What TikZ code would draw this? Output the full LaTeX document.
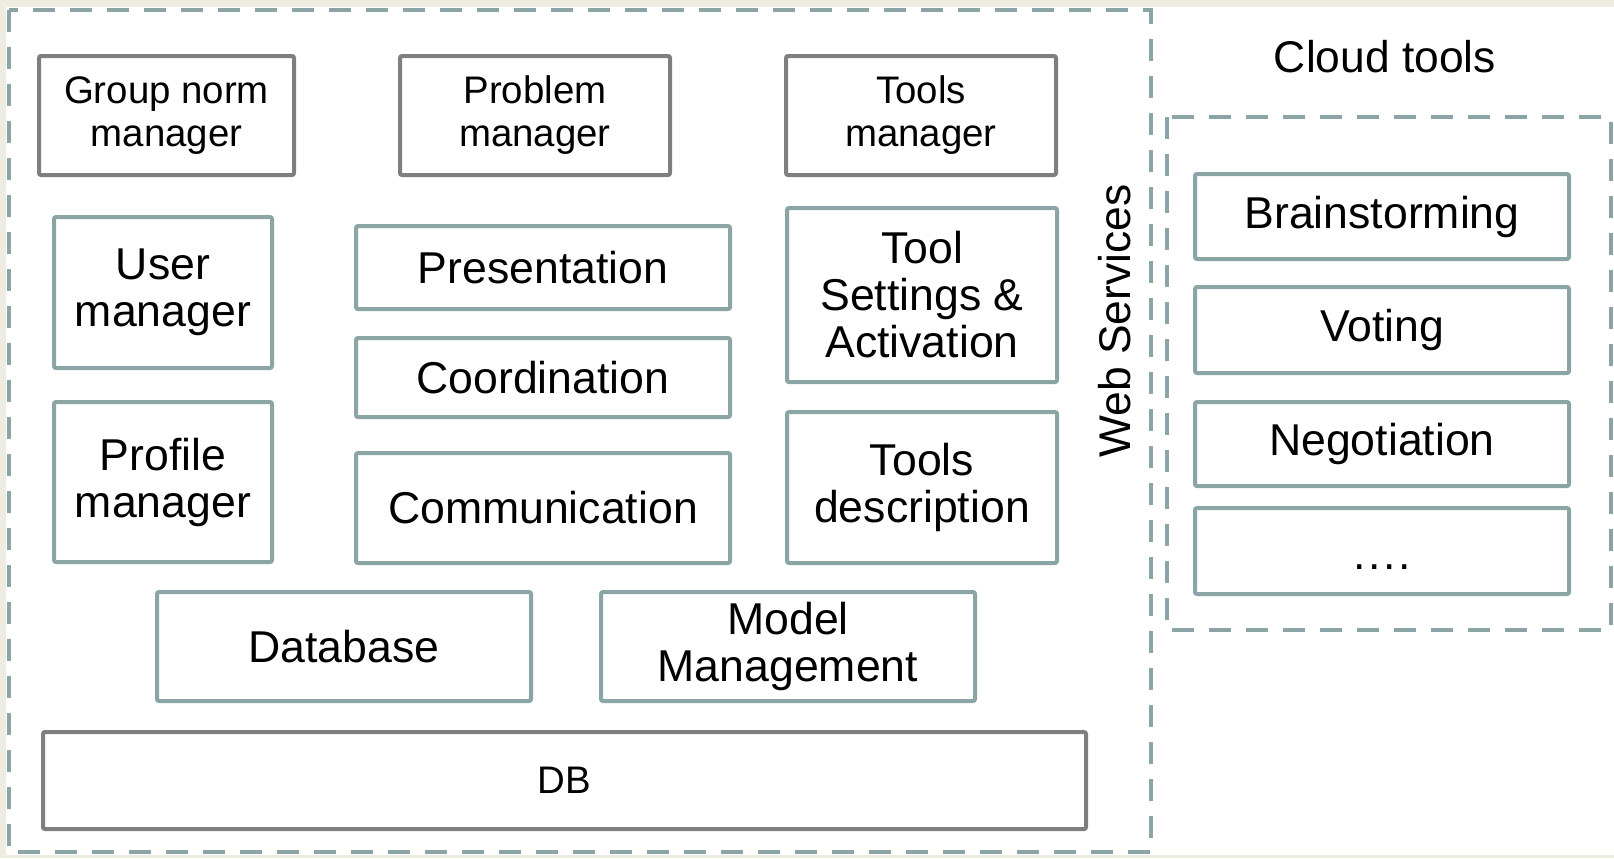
\documentclass[tikz,border=0pt]{standalone}
\usepackage{fontspec}
\setmainfont{Liberation Sans}
\definecolor{tealg}{HTML}{8BA5A7}
\definecolor{greyb}{HTML}{7F7F7F}
\definecolor{beige}{HTML}{EEECE1}
\newcommand\bx[7]{\node[#1, minimum width={(#4-#2)*0.5pt}, minimum height={(#5-#3)*0.5pt}] (#6) at ({(#2+#4)/2},{(#3+#5)/2}) {#7};}
\begin{document}
\begin{tikzpicture}[x=0.5pt,y=-0.5pt,
  tbox/.style={draw=tealg, line width=2pt, rounded corners=1pt, fill=white, inner sep=0pt, align=center, font=\fontsize{22.3}{23.5}\selectfont},
  gbox/.style={tbox, draw=greyb, font=\fontsize{19.2}{21.5}\selectfont},
  frame/.style={draw=tealg, line width=2pt, dash pattern=on 11pt off 7.5pt},
  lbl/.style={font=\fontsize{22.2}{23.5}\selectfont, inner sep=0pt}
]
\fill[beige] (0,0) rectangle (1614,858);
\fill[white] (6,7) rectangle (1614,855);
\useasboundingbox (0,0) rectangle (1614,858);
\draw[frame] (9,10) rectangle (1151,852);
\draw[frame] (1167,117) rectangle (1611,630);
% top row
\bx{gbox}{39}{56}{294}{175}{gnm}{Group norm\\manager}
\bx{gbox}{400}{56}{670}{175}{pm}{Problem\\manager}
\bx{gbox}{786}{56}{1056}{175}{tm}{Tools\\manager}
% left column
\bx{tbox}{54}{217}{272}{368}{um}{User\\manager}
\bx{tbox}{54}{402}{272}{562}{prm}{Profile\\manager}
% middle column
\bx{tbox}{356}{226}{730}{309}{pres}{Presentation}
\bx{tbox}{356}{338}{730}{417}{coord}{Coordination}
\bx{tbox}{356}{453}{730}{563}{comm}{Communication}
% right column
\bx{tbox}{787}{208}{1057}{382}{tsa}{Tool\\Settings \&\\Activation}
\bx{tbox}{787}{412}{1057}{563}{td}{Tools\\description}
% bottom
\bx{tbox}{157}{592}{531}{701}{dbase}{Database}
\bx{tbox}{601}{592}{975}{701}{mm}{Model\\Management}
\bx{gbox}{43}{732}{1086}{829}{db}{DB}
% labels
\node[lbl, rotate=90] (ws) at (1115,321) {Web Services};
\node[lbl] (ct) at (1385,57) {Cloud tools};
% cloud tools
\bx{tbox}{1195}{174}{1569}{259}{brain}{Brainstorming}
\bx{tbox}{1195}{287}{1569}{373}{vote}{Voting}
\bx{tbox}{1195}{402}{1569}{486}{neg}{Negotiation}
\bx{tbox}{1195}{508}{1569}{594}{more}{\vphantom{Ag}\raisebox{-4pt}{.\kern1.2pt.\kern1.2pt.\kern1.2pt.}}
\end{tikzpicture}
\end{document}
